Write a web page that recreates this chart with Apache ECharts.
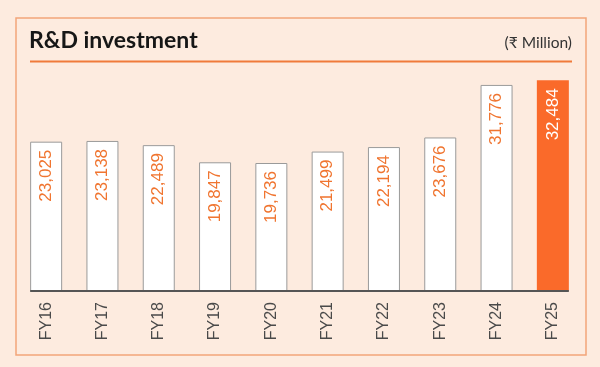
<!DOCTYPE html>
<html><head><meta charset="utf-8">
<script src="https://cdn.jsdelivr.net/npm/echarts@6/dist/echarts.min.js"></script>
<style>html,body{margin:0;padding:0;background:#fdebdf;}#c{width:600px;height:367px;}</style>
</head><body><div id="c"></div>
<script>
const categories = ['FY16','FY17','FY18','FY19','FY20','FY21','FY22','FY23','FY24','FY25'];
const values = [23025, 23138, 22489, 19847, 19736, 21499, 22194, 23676, 31776, 32484];
const titleText = 'R&D investment';
const unitText = '(₹ Million)';
const yMax = 32536;

const chart = echarts.init(document.getElementById('c'), null, {renderer:'canvas'});
const fmt = v => v.toLocaleString('en-US');
chart.setOption({
  backgroundColor: '#fdebdf',
  animation: false,
  grid: {left: 18, right: 19, top: 80, bottom: 76},
  xAxis: {
    type: 'category', data: categories,
    axisLine: {show: false}, axisTick: {show: false},
    axisLabel: {rotate: 90, margin: 11, color: '#4a4a4a', fontSize: 16, fontFamily: 'Liberation Sans, Arial, sans-serif'}
  },
  yAxis: {type: 'value', min: 0, max: yMax, show: false, splitLine: {show: false}},
  series: [{
    type: 'bar', barWidth: 32,
    data: values.map((v, i) => ({
      value: v,
      itemStyle: i === values.length - 1
        ? {color: '#fa6a2a', borderColor: '#fa6a2a', borderWidth: 0}
        : {color: '#ffffff', borderColor: '#9a9a9a', borderWidth: 1},
      label: {color: i === values.length - 1 ? '#ffffff' : '#f07530'}
    })),
    label: {
      show: true, position: 'insideTop', rotate: 90, align: 'right', verticalAlign: 'middle',
      distance: 8, fontSize: 17, fontFamily: 'Liberation Sans, Arial, sans-serif',
      formatter: p => fmt(p.value)
    }
  }],
  graphic: [
    {type: 'rect', shape: {x: 16, y: 18, width: 570, height: 337}, style: {fill: 'none', stroke: '#f2a57a', lineWidth: 1.5}, z: -1},
    {type: 'text', left: 29, top: 29, style: {text: titleText, fontSize: 23, fontWeight: 'bold', fontFamily: 'Lato, sans-serif', fill: '#161616'}},
    {type: 'text', right: 28, top: 35, style: {text: unitText, fontSize: 15.5, fontFamily: 'Lato, sans-serif', fill: '#333'}},
    {type: 'line', shape: {x1: 30, y1: 61.5, x2: 572, y2: 61.5}, style: {stroke: '#f07a3a', lineWidth: 2}}
  ]
});
const p0 = chart.convertToPixel({xAxisIndex: 0, yAxisIndex: 0}, [0, 0]);
const p9 = chart.convertToPixel({xAxisIndex: 0, yAxisIndex: 0}, [categories.length - 1, 0]);
chart.setOption({graphic: [{}, {}, {}, {},
  {type: 'line', shape: {x1: p0[0] - 16, y1: p0[1], x2: p9[0] + 16, y2: p9[1]}, style: {stroke: '#555', lineWidth: 2}, z: 10}
]});
</script></body></html>
